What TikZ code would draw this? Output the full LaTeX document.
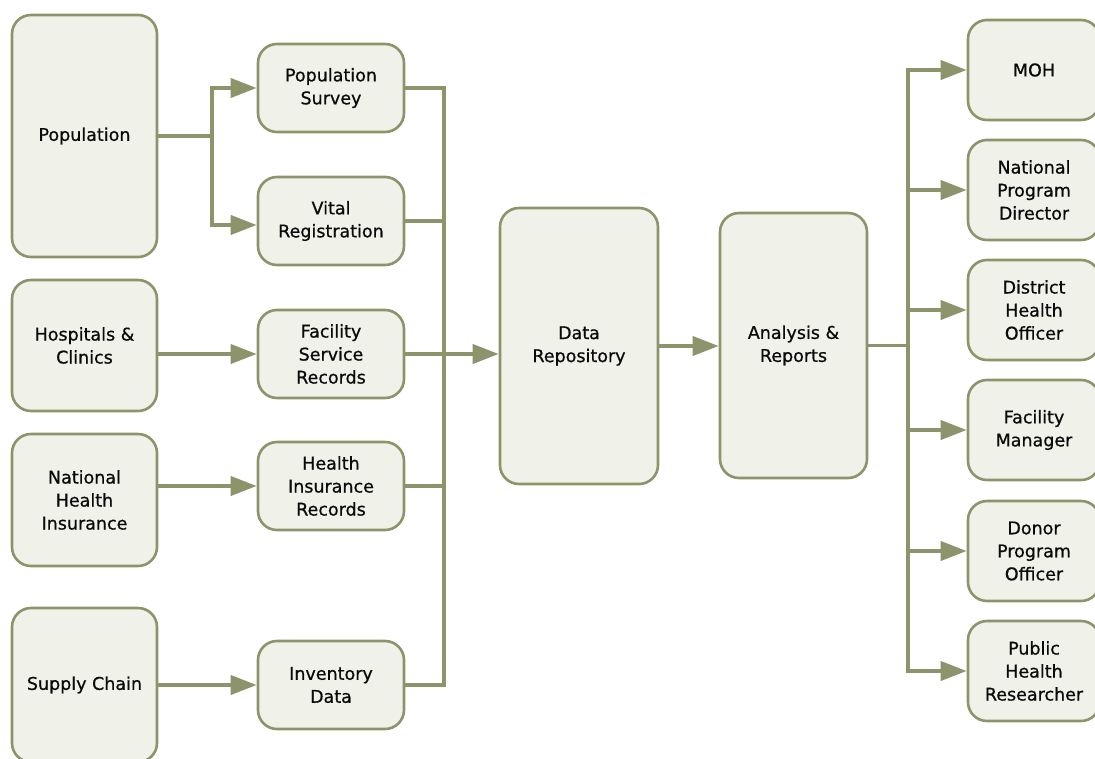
\documentclass[tikz,border=0pt]{standalone}
\usepackage{fontspec}
\setmainfont{DejaVu Sans}[BoldFont=DejaVu Sans, BoldFeatures={FakeBold=0.7}]
\usetikzlibrary{arrows.meta}
\definecolor{edge}{RGB}{141,147,106}
\definecolor{boxfill}{RGB}{240,241,232}
\definecolor{ink}{RGB}{10,10,10}
\begin{document}
\begin{tikzpicture}[x=1pt,y=-1pt,
  box/.style={draw=edge, fill=boxfill, line width=2.6pt, rounded corners=19pt,
    align=center, inner sep=0pt, text=ink,
    font=\fontsize{17.5}{23}\selectfont\bfseries},
  leftbox/.style={box, minimum width=145pt},
  midbox/.style={box, minimum width=146pt, minimum height=88pt},
  rightbox/.style={box, minimum width=132pt, minimum height=100pt},
  link/.style={draw=edge, line width=3.8pt},
  arr/.style={link, -{Triangle[length=26pt,width=19pt]}}]
\useasboundingbox (0,0) rectangle (1095,758);
\clip (0,0) rectangle (1095,758);

% sources
\node[leftbox, minimum height=242pt] (pop) at (84.5,136) {Population};
\node[leftbox, minimum height=131pt] (hosp) at (84.5,345.5) {Hospitals \&\\Clinics};
\node[leftbox, minimum height=132pt] (nhi) at (84.5,500) {National\\Health\\Insurance};
\node[leftbox, minimum height=154pt] (sup) at (84.5,685) {Supply Chain};

% data sets
\node[midbox] (survey) at (331,88) {Population\\Survey};
\node[midbox] (vital) at (331,221) {Vital\\Registration};
\node[midbox] (fac) at (331,354) {Facility\\Service\\Records};
\node[midbox] (hir) at (331,486) {Health\\Insurance\\Records};
\node[midbox] (inv) at (331,685) {Inventory\\Data};

% core
\node[box, minimum width=158pt, minimum height=276pt] (dr) at (579,346) {Data\\Repository};
\node[box, minimum width=147pt, minimum height=265pt] (ar) at (793.5,345.5) {Analysis \&\\Reports};

% users
\node[rightbox] (moh) at (1034,70) {MOH};
\node[rightbox] (npd) at (1034,190) {National\\Program\\Director};
\node[rightbox] (dho) at (1034,310) {District\\Health\\Officer};
\node[rightbox] (fm) at (1034,430) {Facility\\Manager};
\node[rightbox] (dpo) at (1034,551) {Donor\\Program\\Officer};
\node[rightbox] (phr) at (1034,671) {Public\\Health\\Researcher};

% population split
\coordinate (split) at (212,136);
\draw[link] (pop.east) -- (split);
\draw[arr] (split) |- (survey.west);
\draw[arr] (split) |- ([yshift=-4pt]vital.west);

% source to data set
\draw[arr] (hosp.east |- fac.west) -- (fac.west);
\draw[arr] (nhi.east |- hir.west) -- (hir.west);
\draw[arr] (sup.east) -- (inv.west);

% collecting bus
\coordinate (bus) at (444,0);
\draw[link] (survey.east) -- (survey.east -| bus) -- (inv.east -| bus) -- (inv.east);
\draw[link] (vital.east) -- (vital.east -| bus);
\draw[link] (hir.east) -- (hir.east -| bus);
\draw[arr] (fac.east) -- (fac.east -| dr.west);

\draw[arr] (dr.east) -- (dr.east -| ar.west);

% distribution bus
\coordinate (rb) at (908,0);
\draw[link] (ar.east) -- (ar.east -| rb);
\draw[link, line cap=rect] (moh.west -| rb) -- (phr.west -| rb);
\foreach \n in {moh,npd,dho,fm,dpo,phr}
  \draw[arr] (\n.west -| rb) -- (\n.west);
\end{tikzpicture}
\end{document}
